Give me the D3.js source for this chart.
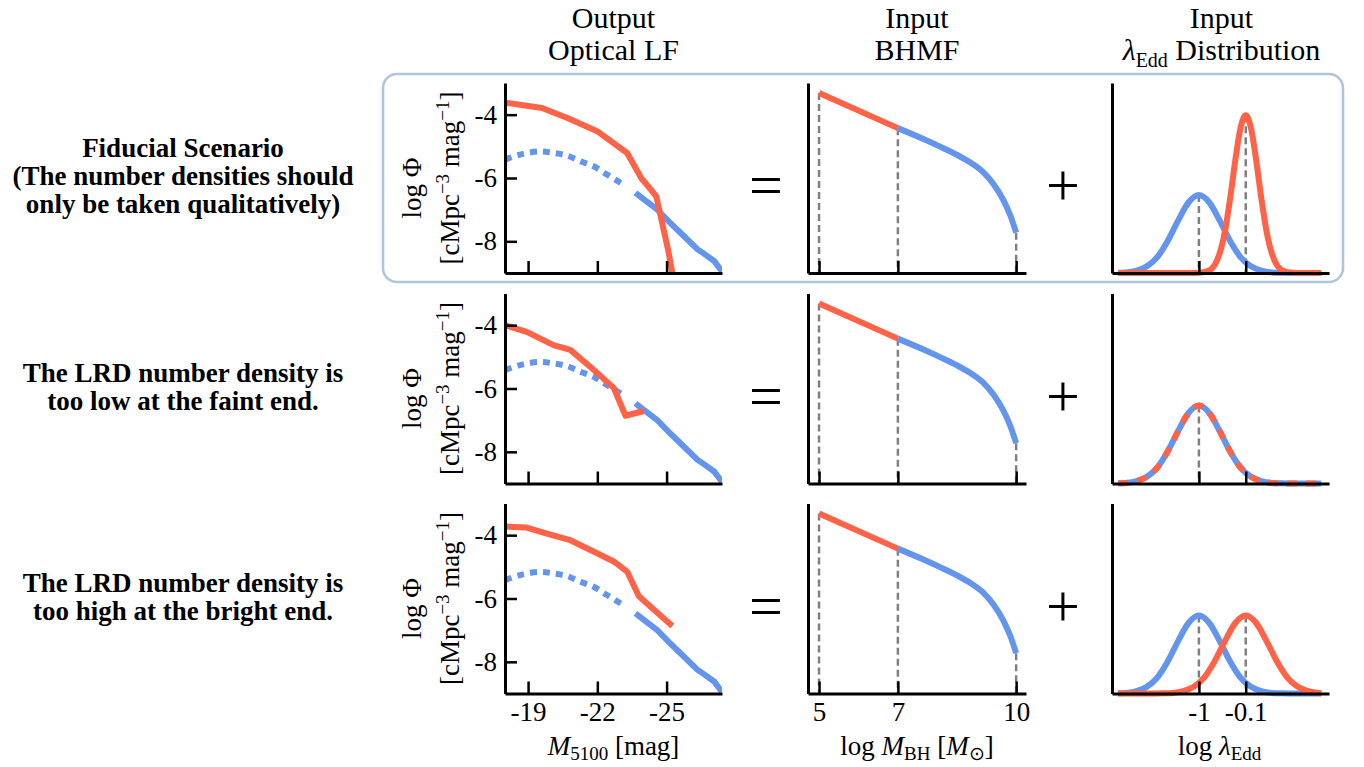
<!DOCTYPE html>
<html>
<head>
<meta charset="utf-8">
<script src="https://cdn.jsdelivr.net/npm/d3@7"></script>
<style>
body { margin: 0; background: #fff; }
svg text { font-family: "Liberation Serif", "Times New Roman", serif; fill: #000; }
</style>
</head>
<body>
<div id="fig"></div>
<script>
// ---------------- data ----------------
let rowCaptions = [
    ["Fiducial Scenario", "(The number densities should", "only be taken qualitatively)"],
    ["The LRD number density is", "too low at the faint end."],
    ["The LRD number density is", "too high at the bright end."]
];

// output optical LF, model curve (blue), faint part dotted, bright part solid
let lfBlueFaintM = [-18.0, -18.65, -19.5, -20.1, -20.68, -21.26, -21.84, -22.42, -23.0, -23.2];
let lfBlueFaintPhi = [-5.42, -5.26, -5.16, -5.21, -5.29, -5.47, -5.63, -5.89, -6.15, -6.24];
let lfBlueBrightM = [-23.65, -24.1, -24.6, -25.1, -25.6, -26.33, -26.6, -27.06, -27.4];
let lfBlueBrightPhi = [-6.47, -6.72, -7.0, -7.38, -7.73, -8.25, -8.38, -8.62, -8.95];

// LRD LF (red) for each scenario
let lfRed1M = [-18.0, -19.6, -20.68, -21.99, -23.29, -23.9, -24.55, -25.06, -25.25];
let lfRed1Phi = [-3.62, -3.79, -4.1, -4.52, -5.21, -6.0, -6.57, -8.25, -9.0];
let lfRed2M = [-18.0, -18.94, -20.1, -20.83, -21.84, -22.71, -23.22, -24.01];
let lfRed2Phi = [-4.0, -4.21, -4.63, -4.78, -5.41, -5.98, -6.86, -6.71];
let lfRed3M = [-18.0, -18.94, -19.81, -20.83, -21.99, -22.71, -23.29, -23.8, -24.6, -25.25];
let lfRed3Phi = [-3.73, -3.76, -3.95, -4.16, -4.57, -4.83, -5.15, -5.93, -6.45, -6.87];

let lfTicksX = [-19, -22, -25];
let lfTicksY = [-4, -6, -8];

// BHMF: red low-mass part, blue high-mass part
let bhRedLogM = [5, 7];
let bhRedPhi = [-2.42, -3.90];
let bhBlueLogM = [7, 7.65, 8.07, 8.49, 8.83, 9.17, 9.42, 9.68, 9.85, 10.0];
let bhBluePhi = [-3.90, -4.36, -4.68, -5.02, -5.34, -5.76, -6.24, -6.94, -7.57, -8.30];
let bhTicks = [5, 7, 10];

// Eddington ratio distributions
let edBlueX = [-2.55, -2.4, -2.2, -2.0, -1.8, -1.6, -1.4, -1.2, -1.0, -0.8, -0.6, -0.4, -0.2, 0.0, 0.2, 0.4, 0.6, 0.8, 1.0, 1.35];
let edBlueY = [0.001, 0.003, 0.012, 0.035, 0.084, 0.169, 0.276, 0.371, 0.41, 0.371, 0.276, 0.169, 0.084, 0.035, 0.012, 0.003, 0.001, 0, 0, 0];
let edNarrowX = [-2.55, -1.2, -1.0, -0.8, -0.7, -0.6, -0.5, -0.4, -0.3, -0.2, -0.1, 0.0, 0.1, 0.2, 0.3, 0.4, 0.5, 0.6, 0.8, 1.0, 1.35];
let edNarrowY = [0, 0, 0.001, 0.014, 0.041, 0.104, 0.219, 0.392, 0.595, 0.764, 0.83, 0.764, 0.595, 0.392, 0.219, 0.104, 0.041, 0.014, 0.001, 0, 0];
let edWideX = [-2.55, -2.1, -1.9, -1.7, -1.5, -1.3, -1.1, -0.9, -0.7, -0.5, -0.3, -0.1, 0.1, 0.3, 0.5, 0.7, 0.9, 1.1, 1.35];
let edWideY = [0, 0, 0, 0.001, 0.003, 0.012, 0.035, 0.084, 0.169, 0.276, 0.371, 0.41, 0.371, 0.276, 0.169, 0.084, 0.035, 0.012, 0.002];
let edTicks = [-1, -0.1];
let edTickLabels = ["-1", "-0.1"];

// per-row setup
let rows = [
    {redM: lfRed1M, redPhi: lfRed1Phi, edRedX: edNarrowX, edRedY: edNarrowY, edMarks: [-1, -0.1], overlay: false},
    {redM: lfRed2M, redPhi: lfRed2Phi, edRedX: edBlueX, edRedY: edBlueY, edMarks: [-1], overlay: true},
    {redM: lfRed3M, redPhi: lfRed3Phi, edRedX: edWideX, edRedY: edWideY, edMarks: [-1, -0.1], overlay: false}
];

// ---------------- layout ----------------
let width = 1364, height = 767;
let rowTop = [83, 293.5, 503.5], panelH = 190;
let lfRange = [505, 722], bhRange = [808, 1026], edRange = [1112, 1329];
let red = "#ff6347", blue = "#6495ed", grey = "#808080";
let lw = 6;

let svg = d3.select("#fig").append("svg")
    .attr("width", width)
    .attr("height", height)
    .style("background", "#fff");

// box around the fiducial row
svg.append("rect")
    .attr("x", 383).attr("y", rowTop[0] - 9)
    .attr("width", edRange[1] + 14 - 383).attr("height", panelH + 18)
    .attr("rx", 14).attr("ry", 14)
    .attr("fill", "none")
    .attr("stroke", "#b0c4de")
    .attr("stroke-width", 2.5);

// column titles
function title(cx, first, y) {
    return svg.append("text").attr("text-anchor", "middle").attr("x", cx).attr("y", y)
        .style("font-size", "30px").text(first);
}
title(d3.mean(lfRange), "Output", 27.5);
title(d3.mean(lfRange), "Optical LF", 59.5);
title(d3.mean(bhRange), "Input", 27.5);
title(d3.mean(bhRange), "BHMF", 59.5);
title(d3.mean(edRange) + 1, "Input", 27.5);
let l2 = svg.append("text").attr("text-anchor", "middle").attr("x", d3.mean(edRange) + 1).attr("y", 59.5).style("font-size", "30px");
l2.append("tspan").style("font-style", "italic").text("λ");
l2.append("tspan").style("font-size", "20px").attr("dy", 7).text("Edd");
l2.append("tspan").attr("dy", -7).text(" Distribution");

function line(xs, ys, xScale, yScale, curve) {
    return d3.line()
        .x((d, i) => xScale(xs[i]))
        .y((d, i) => yScale(ys[i]))
        .curve(curve || d3.curveLinear)(xs);
}

function styleAxis(g) {
    g.attr("font-family", null).attr("font-size", null);
    g.select(".domain").attr("stroke-width", 3);
    g.selectAll(".tick line").attr("stroke-width", 2.5);
    g.selectAll(".tick text").style("font-size", "27px");
}

function clip(id, x0, y0, x1, y1) {
    svg.append("clipPath").attr("id", id)
        .append("rect").attr("x", x0).attr("y", y0).attr("width", x1 - x0).attr("height", y1 - y0);
    return "url(#" + id + ")";
}

rows.forEach(function (r, ri) {
    let top = rowTop[ri], bottom = top + panelH, cy = top + panelH / 2;
    let last = ri === rows.length - 1;

    // ---------- optical LF ----------
    let x = d3.scaleLinear().domain([-18, -27.4]).range(lfRange);
    let y = d3.scaleLinear().domain([-9, -3]).range([bottom, top]);
    let gl = svg.append("g").attr("clip-path", clip("clf" + ri, lfRange[0], top, lfRange[1], bottom));

    gl.append("path")
        .attr("d", line(lfBlueFaintM, lfBlueFaintPhi, x, y, d3.curveCatmullRom))
        .attr("fill", "none").attr("stroke", blue).attr("stroke-width", lw)
        .attr("stroke-dasharray", "7,6");
    gl.append("path")
        .attr("d", line(lfBlueBrightM, lfBlueBrightPhi, x, y))
        .attr("fill", "none").attr("stroke", blue).attr("stroke-width", lw);
    gl.append("path")
        .attr("d", line(r.redM, r.redPhi, x, y))
        .attr("fill", "none").attr("stroke", red).attr("stroke-width", lw)
        .attr("stroke-linejoin", "round");

    svg.append("g")
        .attr("transform", "translate(0," + bottom + ")")
        .call(d3.axisBottom(x).tickValues(lfTicksX).tickSizeInner(-12).tickSizeOuter(0).tickPadding(8)
            .tickFormat(d => last ? String(d) : ""))
        .call(styleAxis);
    svg.append("g")
        .attr("transform", "translate(" + lfRange[0] + ",0)")
        .call(d3.axisLeft(y).tickValues(lfTicksY).tickSizeInner(-12).tickSizeOuter(0).tickPadding(8)
            .tickFormat(d => String(d)))
        .call(styleAxis);

    // y label
    svg.append("text")
        .attr("transform", "translate(421," + (cy + 10) + ") rotate(-90)")
        .attr("text-anchor", "middle")
        .style("font-size", "27px")
        .text("log Φ");
    let yl = svg.append("text")
        .attr("transform", "translate(459," + cy + ") rotate(-90)")
        .attr("text-anchor", "middle")
        .style("font-size", "27px");
    yl.append("tspan").text("[cMpc");
    yl.append("tspan").style("font-size", "19px").attr("dy", -10).text("−3");
    yl.append("tspan").attr("dy", 10).text(" mag");
    yl.append("tspan").style("font-size", "19px").attr("dy", -10).text("−1");
    yl.append("tspan").attr("dy", 10).text("]");

    // ---------- BHMF ----------
    let bx = d3.scaleLinear().domain([4.72, 10.25]).range(bhRange);
    let by = d3.scaleLinear().domain([-10, -2]).range([bottom, top]);
    let bhAll = bhRedLogM.concat(bhBlueLogM), bhAllPhi = bhRedPhi.concat(bhBluePhi);

    svg.append("g").selectAll("line")
        .data(bhTicks)
        .enter().append("line")
        .attr("x1", d => bx(d)).attr("x2", d => bx(d))
        .attr("y1", d => by(bhAllPhi[bhAll.indexOf(d)]))
        .attr("y2", bottom)
        .attr("stroke", grey).attr("stroke-width", 2.5).attr("stroke-dasharray", "7,4");

    svg.append("path")
        .attr("d", line(bhBlueLogM, bhBluePhi, bx, by, d3.curveMonotoneX))
        .attr("fill", "none").attr("stroke", blue).attr("stroke-width", lw);
    svg.append("path")
        .attr("d", line(bhRedLogM, bhRedPhi, bx, by))
        .attr("fill", "none").attr("stroke", red).attr("stroke-width", lw);

    svg.append("g")
        .attr("transform", "translate(0," + bottom + ")")
        .call(d3.axisBottom(bx).tickValues(bhTicks).tickSizeInner(-12).tickSizeOuter(0).tickPadding(8)
            .tickFormat(d => last ? String(d) : ""))
        .call(styleAxis);
    svg.append("g")
        .attr("transform", "translate(" + bhRange[0] + ",0)")
        .call(d3.axisLeft(by).tickValues([]).tickSizeOuter(0))
        .call(styleAxis);

    // ---------- lambda_Edd ----------
    let ex = d3.scaleLinear().domain([-2.67, 1.5]).range(edRange);
    let ey = d3.scaleLinear().domain([0, 1]).range([bottom, top]);

    svg.append("g").selectAll("line")
        .data(r.edMarks)
        .enter().append("line")
        .attr("x1", d => ex(d)).attr("x2", d => ex(d))
        .attr("y1", d => d === -1 ? ey(edBlueY[edBlueX.indexOf(d)]) : ey(r.edRedY[r.edRedX.indexOf(d)]))
        .attr("y2", bottom)
        .attr("stroke", grey).attr("stroke-width", 2.5).attr("stroke-dasharray", "7,4");

    svg.append("path")
        .attr("d", line(edBlueX, edBlueY, ex, ey, d3.curveMonotoneX))
        .attr("fill", "none").attr("stroke", blue).attr("stroke-width", lw);
    svg.append("path")
        .attr("d", line(r.edRedX, r.edRedY, ex, ey, d3.curveMonotoneX))
        .attr("fill", "none").attr("stroke", red).attr("stroke-width", lw)
        .attr("stroke-dasharray", r.overlay ? "10,9" : null);

    svg.append("g")
        .attr("transform", "translate(0," + bottom + ")")
        .call(d3.axisBottom(ex).tickValues(edTicks).tickSizeInner(-12).tickSizeOuter(0).tickPadding(8)
            .tickFormat((d, i) => last ? edTickLabels[i] : ""))
        .call(styleAxis);
    svg.append("g")
        .attr("transform", "translate(" + edRange[0] + ",0)")
        .call(d3.axisLeft(ey).tickValues([]).tickSizeOuter(0))
        .call(styleAxis);

    // = and + signs
    svg.append("text").attr("x", 766).attr("y", cy + 27).attr("text-anchor", "middle")
        .style("font-size", "60px").text("=");
    svg.append("text").attr("x", 1063).attr("y", cy + 27).attr("text-anchor", "middle")
        .style("font-size", "60px").text("+");

    // row caption
    let cap = svg.append("text").attr("text-anchor", "middle")
        .style("font-size", "27px").style("font-weight", "bold");
    let lines = rowCaptions[ri];
    let y0 = lines.length === 3 ? cy - 21 : cy - 6.5;
    lines.forEach(function (s, k) {
        cap.append("tspan").attr("x", 183).attr("y", y0 + k * 28).text(s);
    });
});

// x axis labels
let bottomY = 755;
let xl1 = svg.append("text").attr("x", d3.mean(lfRange)).attr("y", bottomY).attr("text-anchor", "middle").style("font-size", "27px");
xl1.append("tspan").style("font-style", "italic").text("M");
xl1.append("tspan").style("font-size", "19px").attr("dy", 5).text("5100");
xl1.append("tspan").attr("dy", -5).text(" [mag]");

let xl2 = svg.append("text").attr("x", d3.mean(bhRange)).attr("y", bottomY).attr("text-anchor", "middle").style("font-size", "27px");
xl2.append("tspan").text("log ");
xl2.append("tspan").style("font-style", "italic").text("M");
xl2.append("tspan").style("font-size", "19px").attr("dy", 5).text("BH");
xl2.append("tspan").attr("dy", -5).text(" [");
xl2.append("tspan").style("font-style", "italic").text("M");
xl2.append("tspan").style("font-size", "19px").attr("dy", 5).text("⊙");
xl2.append("tspan").attr("dy", -5).text("]");

let xl3 = svg.append("text").attr("x", d3.mean(edRange) - 1).attr("y", bottomY).attr("text-anchor", "middle").style("font-size", "27px");
xl3.append("tspan").text("log ");
xl3.append("tspan").style("font-style", "italic").text("λ");
xl3.append("tspan").style("font-size", "19px").attr("dy", 5).text("Edd");
</script>
</body>
</html>
